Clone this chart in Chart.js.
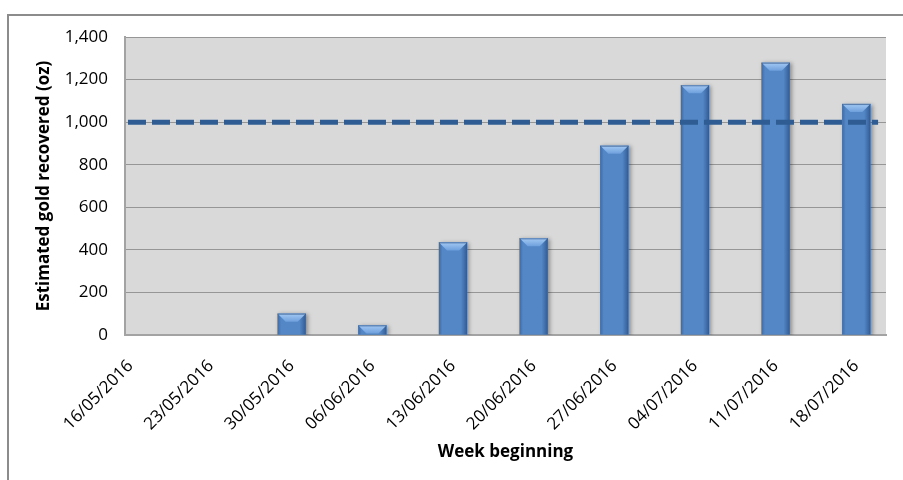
<!DOCTYPE html>
<html>
<head>
<meta charset="utf-8">
<script src="https://cdn.jsdelivr.net/npm/chart.js@4.4.1/dist/chart.umd.min.js"></script>
<style>
  html, body { margin: 0; padding: 0; background: #fff; overflow: hidden; }
  #wrap { position: relative; width: 903px; height: 480px; overflow: hidden; }
  #frame { position: absolute; left: 7px; top: 14px; width: 1000px; height: 1000px;
           border: 2px solid #8c8c8c; box-sizing: border-box; }
  canvas { position: absolute; left: 0; top: 0; }
</style>
</head>
<body>
<div id="wrap">
  <div id="frame"></div>
  <canvas id="chart" width="903" height="480"></canvas>
</div>
<script>
// Week-commencing dates and weekly gold recovery (oz)
const weeks = ['16/05/2016', '23/05/2016', '30/05/2016', '06/06/2016', '13/06/2016',
               '20/06/2016', '27/06/2016', '04/07/2016', '11/07/2016', '18/07/2016'];
const goldOz = [0, 0, 100, 45, 435, 454, 889, 1173, 1279, 1085];

// Weekly target (oz) and the week offsets where the target line begins and ends
const targetOz = 1000;
const targetSpan = [-0.03, 9.27];

// Axis extents (x in weeks from the first date)
const xRange = [-0.067, 9.368];
const yMax = 1400;
const yStep = 200;

const FONT = '"Open Sans", "DejaVu Sans", sans-serif';

// Grey plot-area fill
const plotFill = {
  id: 'plotFill',
  beforeDraw(chart) {
    const { ctx, chartArea: a } = chart;
    ctx.save();
    ctx.fillStyle = '#d9d9d9';
    ctx.fillRect(a.left, a.top, a.right - a.left, a.bottom - a.top);
    ctx.restore();
  }
};

// Soft drop shadow and bevelled tops for the columns
const bevel = {
  id: 'bevel',
  beforeDatasetDraw(chart, args) {
    if (args.meta.type !== 'bar') return;
    const c = chart.ctx;
    c.save();
    c.shadowColor = 'rgba(0,0,0,0.35)';
    c.shadowBlur = 4;
    c.shadowOffsetX = 2;
    c.shadowOffsetY = 1;
  },
  afterDatasetDraw(chart, args) {
    if (args.meta.type !== 'bar') return;
    const c = chart.ctx;
    c.restore();
    c.save();
    args.meta.data.forEach(el => {
      const { x, y, base, width } = el.getProps(['x', 'y', 'base', 'width'], true);
      const h = base - y;
      if (h <= 0.5) return;
      const l = x - width / 2, r = x + width / 2;
      const side = c.createLinearGradient(l, 0, r, 0);
      side.addColorStop(0, 'rgba(25,55,105,0.35)');
      side.addColorStop(0.12, 'rgba(25,55,105,0)');
      side.addColorStop(0.78, 'rgba(25,55,105,0)');
      side.addColorStop(1, 'rgba(20,45,90,0.5)');
      c.fillStyle = side;
      c.fillRect(l, y, width, h);
      const b = Math.min(8, h);
      const top = c.createLinearGradient(0, y, 0, y + b);
      top.addColorStop(0, '#a3c9f4');
      top.addColorStop(1, '#6e9fdc');
      c.beginPath();
      c.moveTo(l, y);
      c.lineTo(r, y);
      c.lineTo(r - b, y + b);
      c.lineTo(l + b, y + b);
      c.closePath();
      c.fillStyle = top;
      c.fill();
      c.strokeStyle = 'rgba(40,75,125,0.6)';
      c.lineWidth = 1;
      c.beginPath();
      c.moveTo(l, y + 0.5);
      c.lineTo(r, y + 0.5);
      c.stroke();
    });
    c.restore();
  }
};

function draw() {
  new Chart(document.getElementById('chart'), {
    type: 'bar',
    data: {
      datasets: [
        {
          type: 'line',
          label: 'Target',
          data: targetSpan.map(w => ({ x: w, y: targetOz })),
          borderColor: '#2f5d93',
          borderWidth: 5,
          borderDash: [18, 6],
          borderCapStyle: 'butt',
          pointRadius: 0,
          fill: false,
          order: 0
        },
        {
          type: 'bar',
          label: 'Estimated gold recovered',
          data: goldOz.map((v, i) => ({ x: i, y: v })),
          backgroundColor: ctx => (ctx.raw && ctx.raw.y > 0 ? '#5387c6' : 'rgba(0,0,0,0)'),
          borderWidth: 0,
          barThickness: 28,
          order: 1
        }
      ]
    },
    options: {
      responsive: false,
      animation: false,
      layout: { padding: { left: 0, top: 37, right: 17, bottom: 0 } },
      plugins: { legend: { display: false }, tooltip: { enabled: false } },
      scales: {
        x: {
          type: 'linear',
          offset: false,
          min: xRange[0],
          max: xRange[1],
          afterFit(s) { s.height = 145; },
          grid: { display: false, drawTicks: false, offset: false },
          border: { display: true, color: '#a3a3a3', width: 2 },
          ticks: {
            stepSize: 1,
            includeBounds: false,
            autoSkip: false,
            minRotation: 45,
            maxRotation: 45,
            padding: 21,
            color: '#000',
            font: { family: FONT, size: 17 },
            callback: v => weeks[v] ?? ''
          },
          title: {
            display: true,
            text: 'Week beginning',
            color: '#000',
            font: { family: FONT, size: 17, weight: 'bold' },
            padding: { top: 0, bottom: 18 }
          }
        },
        y: {
          min: 0,
          max: yMax,
          afterFit(s) { s.width = 125; },
          grid: { color: '#969696', lineWidth: 1, drawTicks: false },
          border: { display: true, color: '#a3a3a3', width: 2 },
          ticks: {
            stepSize: yStep,
            padding: 17,
            color: '#000',
            font: { family: FONT, size: 17 },
            callback: v => v.toLocaleString('en-US')
          },
          title: {
            display: true,
            text: 'Estimated gold recovered (oz)',
            color: '#000',
            font: { family: FONT, size: 17, weight: 'bold' },
            padding: { top: 34, bottom: 0 }
          }
        }
      }
    },
    plugins: [plotFill, bevel]
  });
}

Promise.all([
  document.fonts.load('17px "Open Sans"'),
  document.fonts.load('bold 17px "Open Sans"')
]).then(draw, draw);
</script>
</body>
</html>
